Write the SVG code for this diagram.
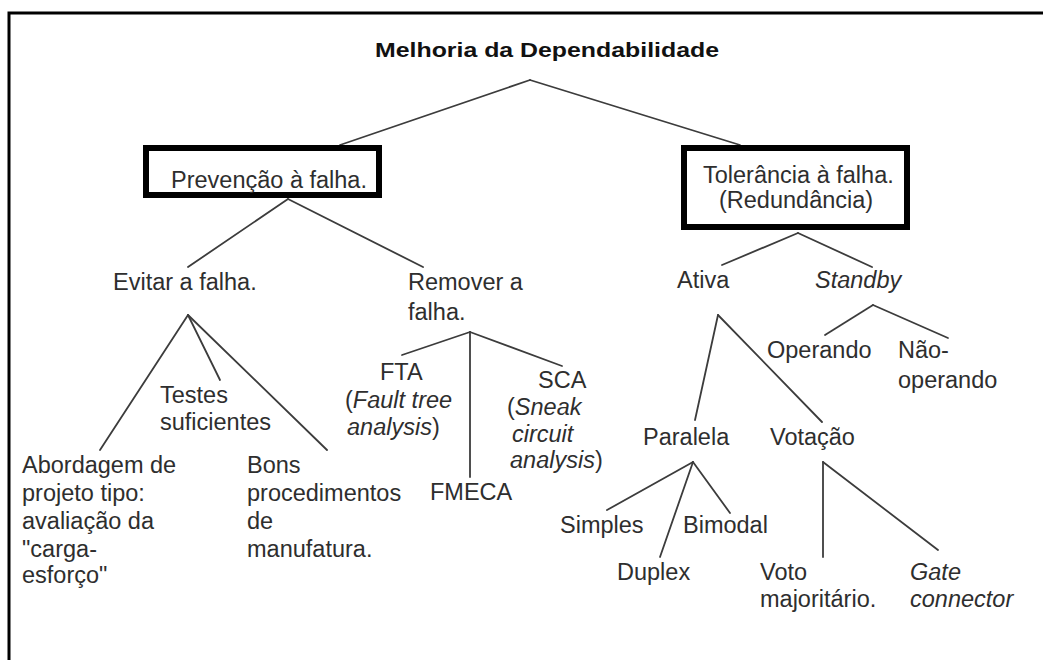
<svg xmlns="http://www.w3.org/2000/svg" width="1043" height="660" viewBox="0 0 1043 660">
<style>
text{font-family:"Liberation Sans",Arial,sans-serif;font-size:23.5px;fill:#2e2e2e}
.title{font-weight:bold;font-size:19.5px;fill:#111}
.i{font-style:italic}
.box{fill:#fff;stroke:#000;stroke-width:6}
.ln{stroke:#3c3c3c;stroke-width:1.8;fill:none;stroke-linecap:round}
</style>
<rect x="0" y="0" width="1043" height="660" fill="#fff"/>
<path d="M9,660 V13 H1043" fill="none" stroke="#000" stroke-width="3"/>
<g id="connectors">
<line class="ln" x1="530" y1="80" x2="340" y2="145"/>
<line class="ln" x1="530" y1="80" x2="740" y2="145"/>
<line class="ln" x1="288" y1="199" x2="188" y2="267"/>
<line class="ln" x1="288" y1="199" x2="423" y2="267"/>
<line class="ln" x1="188" y1="315" x2="100" y2="450"/>
<line class="ln" x1="188" y1="315" x2="220" y2="380"/>
<line class="ln" x1="188" y1="315" x2="327" y2="450"/>
<line class="ln" x1="470" y1="332" x2="402" y2="355"/>
<line class="ln" x1="470" y1="332" x2="470" y2="477"/>
<line class="ln" x1="470" y1="332" x2="562" y2="366"/>
<line class="ln" x1="798" y1="233" x2="722" y2="265"/>
<line class="ln" x1="798" y1="233" x2="872" y2="267"/>
<line class="ln" x1="718" y1="315" x2="695" y2="420"/>
<line class="ln" x1="718" y1="315" x2="822" y2="422"/>
<line class="ln" x1="873" y1="305" x2="825" y2="335"/>
<line class="ln" x1="873" y1="305" x2="948" y2="338"/>
<line class="ln" x1="693" y1="462" x2="607" y2="510"/>
<line class="ln" x1="693" y1="462" x2="660" y2="557"/>
<line class="ln" x1="693" y1="462" x2="730" y2="513"/>
<line class="ln" x1="823" y1="462" x2="823" y2="557"/>
<line class="ln" x1="823" y1="462" x2="938" y2="550"/>
</g>
<g id="n-root"><text class="title" x="375" y="57" textLength="344" lengthAdjust="spacingAndGlyphs">Melhoria da Dependabilidade</text></g>
<g id="n-prevencao"><rect class="box" x="146" y="148" width="233" height="47"/><text x="171" y="188">Prevenção à falha.</text></g>
<g id="n-tolerancia"><rect class="box" x="684" y="148" width="223" height="79"/><text x="703" y="183">Tolerância à falha.</text><text x="719" y="208">(Redundância)</text></g>
<g id="n-evitar"><text x="113" y="290">Evitar a falha.</text></g>
<g id="n-remover"><text x="408" y="290">Remover a</text><text x="408" y="320">falha.</text></g>
<g id="n-testes"><text x="160" y="403">Testes</text><text x="160" y="430">suficientes</text></g>
<g id="n-abordagem"><text x="22" y="473">Abordagem de</text><text x="22" y="501">projeto tipo:</text><text x="22" y="529">avaliação da</text><text x="22" y="557">"carga-</text><text x="22" y="583">esforço"</text></g>
<g id="n-bons"><text x="247" y="473">Bons</text><text x="247" y="501">procedimentos</text><text x="247" y="529">de</text><text x="247" y="557">manufatura.</text></g>
<g id="n-fta"><text x="380" y="380">FTA</text><text x="345" y="408">(<tspan class="i">Fault tree</tspan></text><text x="347" y="435"><tspan class="i">analysis</tspan>)</text></g>
<g id="n-fmeca"><text x="430" y="500">FMECA</text></g>
<g id="n-sca"><text x="538" y="388">SCA</text><text x="507" y="415">(<tspan class="i">Sneak</tspan></text><text x="512" y="442" class="i">circuit</text><text x="510" y="468"><tspan class="i">analysis</tspan>)</text></g>
<g id="n-ativa"><text x="677" y="288">Ativa</text></g>
<g id="n-standby"><text x="815" y="288" class="i">Standby</text></g>
<g id="n-operando"><text x="767" y="358">Operando</text></g>
<g id="n-naooperando"><text x="898" y="358">Não-</text><text x="898" y="388">operando</text></g>
<g id="n-paralela"><text x="643" y="445">Paralela</text></g>
<g id="n-votacao"><text x="770" y="445">Votação</text></g>
<g id="n-simples"><text x="560" y="533">Simples</text></g>
<g id="n-bimodal"><text x="683" y="533">Bimodal</text></g>
<g id="n-duplex"><text x="617" y="580">Duplex</text></g>
<g id="n-voto"><text x="760" y="580">Voto</text><text x="760" y="607">majoritário.</text></g>
<g id="n-gate"><text x="910" y="580" class="i">Gate</text><text x="910" y="607" class="i">connector</text></g>
</svg>
